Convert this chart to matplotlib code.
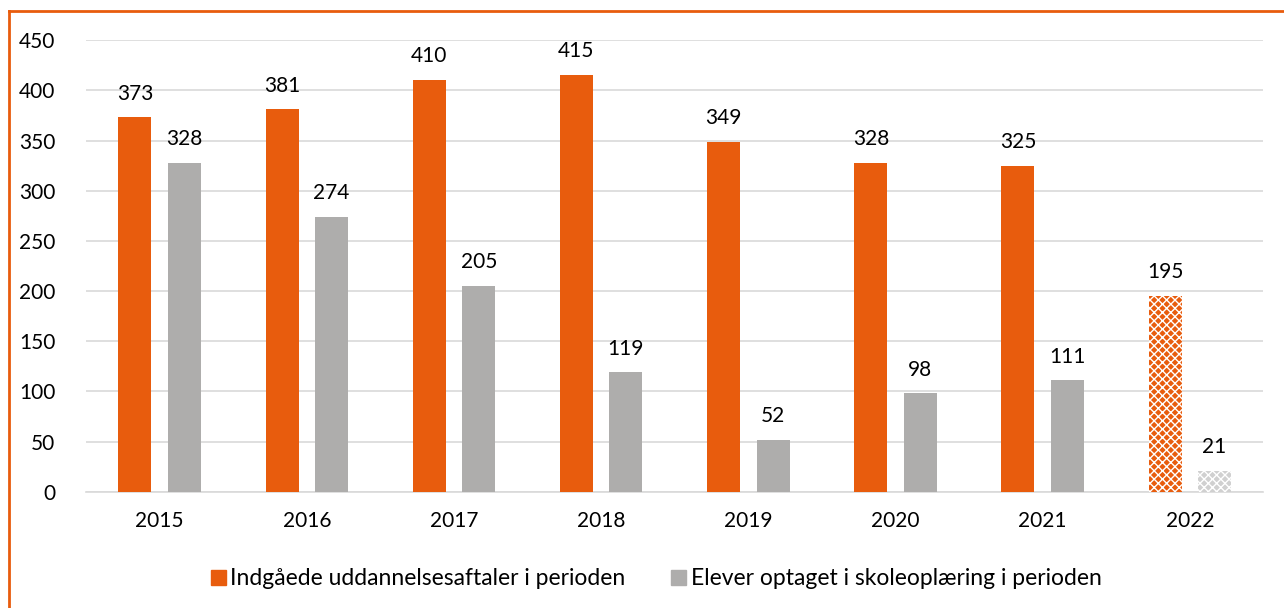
import numpy as np
import matplotlib
matplotlib.use('Agg')
import matplotlib.pyplot as plt
from matplotlib.lines import Line2D
from matplotlib.patches import Patch

years = ["2015", "2016", "2017", "2018", "2019", "2020", "2021", "2022"]
aftaler = [373, 381, 410, 415, 349, 328, 325, 195]
skolepraktik = [328, 274, 205, 119, 52, 98, 111, 21]
legend_labels = ["Indgåede uddannelsesaftaler i perioden",
                 "Elever optaget i skoleoplæring i perioden"]

orange = "#E85C0D"
grey = "#AEADAC"

plt.rcParams['font.family'] = ['Lato', 'DejaVu Sans']
plt.rcParams['hatch.linewidth'] = 1.0

fig = plt.figure(figsize=(12.84, 6.08), dpi=100)
ax = fig.add_axes([0.067, 0.191, 0.917, 0.743])

x = np.arange(len(years))
w = 0.224
off = 0.168

for i in range(len(years)):
    last = i == len(years) - 1
    if last:
        # preliminary year drawn with a pattern
        ax.bar(x[i] - off, aftaler[i], w, facecolor=orange, edgecolor="white",
               hatch="xxxx", linewidth=0, zorder=3)
        ax.bar(x[i] + off, skolepraktik[i], w, facecolor="#D0D0D0", edgecolor="white",
               hatch="xxxx", linewidth=0, zorder=3)
    else:
        ax.bar(x[i] - off, aftaler[i], w, color=orange, zorder=3)
        ax.bar(x[i] + off, skolepraktik[i], w, color=grey, zorder=3)
    ax.annotate(str(aftaler[i]), (x[i] - off, aftaler[i]), xytext=(0, 10),
                textcoords="offset points", ha="center", va="bottom", fontsize=15)
    ax.annotate(str(skolepraktik[i]), (x[i] + off, skolepraktik[i]), xytext=(0, 10),
                textcoords="offset points", ha="center", va="bottom", fontsize=15)

ax.set_xlim(-0.5, len(years) - 0.5)
ax.set_ylim(0, 450)
ax.set_yticks(np.arange(0, 451, 50))
ax.set_xticks(x)
ax.set_xticklabels(years)
ax.tick_params(axis="both", length=0, labelsize=15)
ax.tick_params(axis="x", pad=14)
ax.tick_params(axis="y", pad=22)
ax.grid(axis="y", color="#D9D9D9", linewidth=1.2, zorder=0)
for s in ["top", "right", "left"]:
    ax.spines[s].set_visible(False)
ax.spines["bottom"].set_color("#D9D9D9")
ax.spines["bottom"].set_linewidth(1.2)

handles = [Patch(color=orange), Patch(color=grey)]
fig.legend(handles, legend_labels, loc="center", bbox_to_anchor=(0.511, 0.048),
           ncol=2, frameon=False, fontsize=16.5, handlelength=0.65, handleheight=0.65,
           handletextpad=0.2, columnspacing=2.0)

# orange frame on top and left
fig.add_artist(Line2D([9 / 1284, 1], [1 - 11 / 608, 1 - 11 / 608], color=orange, linewidth=2))
fig.add_artist(Line2D([9 / 1284, 9 / 1284], [0, 1 - 11 / 608], color=orange, linewidth=2))

fig.savefig("out.png", dpi=100)
